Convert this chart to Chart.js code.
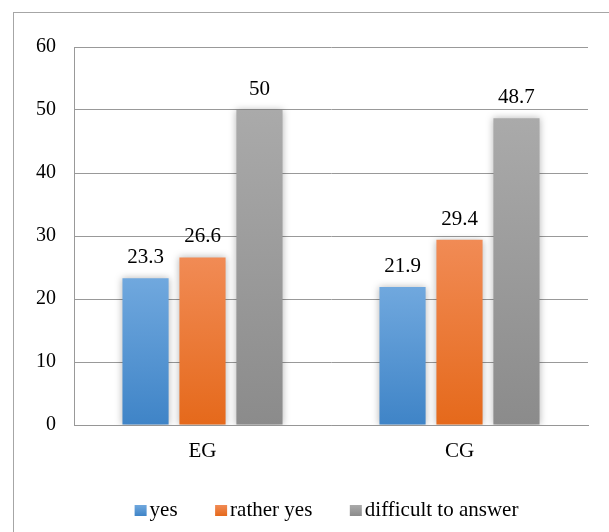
<!DOCTYPE html>
<html>
<head>
<meta charset="utf-8">
<script src="https://cdn.jsdelivr.net/npm/chart.js@4/dist/chart.umd.min.js"></script>
<style>
  html, body { margin: 0; padding: 0; background: #fff; overflow: hidden; }
  #wrap { position: relative; width: 609px; height: 532px; }
  #frame { position: absolute; left: 13px; top: 12px; width: 700px; height: 700px;
           border: 1px solid #a6a6a6; box-sizing: border-box; }
  canvas { position: absolute; left: 0; top: 0; }
</style>
</head>
<body>
<div id="wrap">
  <div id="frame"></div>
  <canvas id="c" width="609" height="532"></canvas>
</div>
<script>
// Groups and survey answers (percent)
const groups = ['EG', 'CG'];
const seriesNames = ['yes', 'rather yes', 'difficult to answer'];
const yesValues = [23.3, 21.9];
const ratherYesValues = [26.6, 29.4];
const difficultValues = [50, 48.7];
const yTicks = [0, 10, 20, 30, 40, 50, 60];

const FONT = "'Liberation Serif', 'Times New Roman', serif";

// top/bottom colours of each series' vertical gradient
const palettes = [
  ['#70a8de', '#3f84c7'],
  ['#f18b55', '#e5691b'],
  ['#aaaaaa', '#8b8b8b']
];

function barGradient(idx) {
  return function (ctx) {
    const chart = ctx.chart;
    const y = chart.scales.y;
    if (!y || ctx.type !== 'data') return palettes[idx][1];
    const top = y.getPixelForValue(ctx.raw);
    const bottom = y.getPixelForValue(0);
    if (!isFinite(top) || !isFinite(bottom) || top === bottom) return palettes[idx][1];
    const g = chart.ctx.createLinearGradient(0, top, 0, bottom);
    g.addColorStop(0, palettes[idx][0]);
    g.addColorStop(1, palettes[idx][1]);
    return g;
  };
}

// Soft halo around every bar
const barShadow = {
  id: 'barShadow',
  beforeDatasetsDraw(chart) {
    const c = chart.ctx;
    c.save();
    c.shadowColor = 'rgba(0,0,0,0.28)';
    c.shadowBlur = 7;
    c.shadowOffsetX = 0;
    c.shadowOffsetY = 0;
  },
  afterDatasetsDraw(chart) {
    chart.ctx.restore();
  }
};

// Value printed above each bar
const valueLabels = {
  id: 'valueLabels',
  afterDatasetsDraw(chart) {
    const c = chart.ctx;
    c.save();
    c.font = '21px ' + FONT;
    c.fillStyle = '#000';
    c.textAlign = 'center';
    c.textBaseline = 'alphabetic';
    chart.data.datasets.forEach((ds, di) => {
      const meta = chart.getDatasetMeta(di);
      meta.data.forEach((bar, i) => {
        c.fillText(String(ds.data[i]), bar.x, bar.y - 15);
      });
    });
    c.restore();
  }
};

// Compact legend row: small square, tight gap, text
const bottomLegend = {
  id: 'bottomLegend',
  afterDraw(chart) {
    const c = chart.ctx;
    const box = 12, boxH = 11, textGap = 3, itemGap = 37.5;
    const centerX = 326.5, midY = 510.5;
    c.save();
    c.font = '21px ' + FONT;
    const widths = chart.data.datasets.map(ds => c.measureText(ds.label).width);
    const total = widths.reduce((s, w) => s + box + textGap + w, 0) + itemGap * (widths.length - 1);
    let x = centerX - total / 2;
    chart.data.datasets.forEach((ds, i) => {
      const g = c.createLinearGradient(0, midY - boxH / 2, 0, midY + boxH / 2);
      g.addColorStop(0, palettes[i][0]);
      g.addColorStop(1, palettes[i][1]);
      c.fillStyle = g;
      c.fillRect(x, midY - boxH / 2, box, boxH);
      c.fillStyle = '#000';
      c.textAlign = 'left';
      c.textBaseline = 'middle';
      c.fillText(ds.label, x + box + textGap, midY);
      x += box + textGap + widths[i] + itemGap;
    });
    c.restore();
  }
};

const seriesData = [yesValues, ratherYesValues, difficultValues];

new Chart(document.getElementById('c'), {
  type: 'bar',
  data: {
    labels: groups,
    datasets: seriesNames.map((name, i) => ({
      label: name,
      data: seriesData[i],
      backgroundColor: barGradient(i),
      borderWidth: 0,
      barPercentage: 0.81,
      categoryPercentage: 0.665
    }))
  },
  options: {
    responsive: false,
    animation: false,
    devicePixelRatio: 1,
    layout: { padding: { left: 0, right: 21, top: 47, bottom: 67 } },
    scales: {
      x: {
        grid: { display: false, drawTicks: false },
        border: { display: true, color: '#969696', width: 1 },
        ticks: { color: '#000', font: { family: FONT, size: 21 }, padding: 14 },
        afterFit(scale) { scale.height = 40; }
      },
      y: {
        min: 0,
        max: 60,
        afterBuildTicks(scale) { scale.ticks = yTicks.map(v => ({ value: v })); },
        grid: { color: '#999999', lineWidth: 1, drawTicks: false },
        border: { display: true, color: '#999999', width: 1 },
        ticks: { color: '#000', font: { family: FONT, size: 20 }, padding: 18 },
        afterFit(scale) { scale.width = 74; }
      }
    },
    plugins: {
      legend: { display: false },
      tooltip: { enabled: false }
    }
  },
  plugins: [barShadow, valueLabels, bottomLegend]
});
</script>
</body>
</html>
